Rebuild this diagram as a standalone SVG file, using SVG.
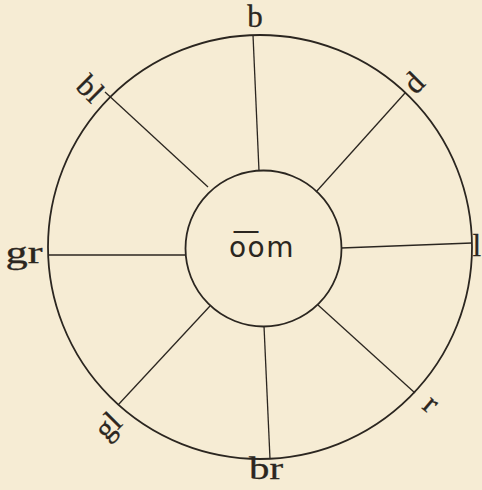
<svg xmlns="http://www.w3.org/2000/svg" width="482" height="490" viewBox="0 0 482 490">
<style>
.ring{fill:none;stroke:#2b2620;stroke-width:1.8}
.spoke{stroke:#2b2620;stroke-width:1.3}
.lbl{font-family:"Liberation Serif","DejaVu Serif",serif;font-size:31px;fill:#2b2620;stroke:#2b2620;stroke-width:0.3;text-anchor:middle}
.ctr{font-family:"DejaVu Sans","Liberation Sans",sans-serif;font-size:28px;fill:#2b2620;text-anchor:middle;letter-spacing:1.5px}
</style>
<rect width="482" height="490" fill="#f6ecd4"/>
<g id="outer-circle"><circle class="ring" cx="260" cy="247" r="212"/></g>
<g id="connectors">
<line class="spoke" x1="253" y1="35" x2="259" y2="171"/>
<line class="spoke" x1="405" y1="93" x2="316" y2="192"/>
<line class="spoke" x1="472" y1="243" x2="341" y2="248"/>
<line class="spoke" x1="415" y1="393" x2="318" y2="305"/>
<line class="spoke" x1="270" y1="459" x2="264" y2="326"/>
<line class="spoke" x1="118" y1="405" x2="210" y2="306"/>
<line class="spoke" x1="48" y1="255" x2="186" y2="255"/>
<line class="spoke" x1="105" y1="92" x2="208" y2="187"/>
</g>
<g id="center"><circle class="ring" cx="263.5" cy="248.5" r="78"/>
<text class="ctr" x="262" y="257">o͞om</text></g>
<g id="b"><text class="lbl" x="255" y="27">b</text></g>
<g id="d"><text class="lbl" transform="translate(421,90) rotate(-45)" x="0" y="0">d</text></g>
<g id="l"><text class="lbl" x="481" y="256" style="text-anchor:end">l</text></g>
<g id="r"><text class="lbl" transform="translate(425,411) rotate(40)" x="0" y="0">r</text></g>
<g id="br"><text class="lbl" x="266" y="479" textLength="34" lengthAdjust="spacingAndGlyphs">br</text></g>
<g id="gl"><text class="lbl" transform="translate(115,433) rotate(-45)" x="0" y="0">gl</text></g>
<g id="gr"><text class="lbl" x="24" y="263" textLength="37" lengthAdjust="spacingAndGlyphs">gr</text></g>
<g id="bl"><text class="lbl" transform="translate(83,96) rotate(45)" x="0" y="0">bl</text></g>
</svg>
